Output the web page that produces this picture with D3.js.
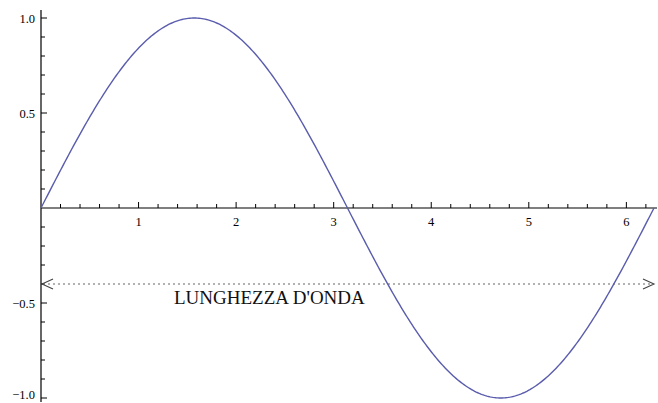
<!DOCTYPE html>
<html>
<head>
<meta charset="utf-8">
<script src="https://cdn.jsdelivr.net/npm/d3@7"></script>
<style>
  html, body { margin: 0; padding: 0; background: #fff; }
  svg { display: block; }
</style>
</head>
<body>
<svg id="chart" width="658" height="403"></svg>
<script>
// Curve: y = sin(x) over one full period
const curveSteps = d3.range(0, 401).map(i => i / 400);          // fractions of the period
const xTickValues = [1, 2, 3, 4, 5, 6];
const xTickLabels = ["1", "2", "3", "4", "5", "6"];
const yTickValues = [-1.0, -0.5, 0.5, 1.0];
const yTickLabels = ["\u22121.0", "\u22120.5", "0.5", "1.0"];
const wavelengthLevel = -0.4;
const wavelengthLabel = "LUNGHEZZA D'ONDA";

const svg = d3.select("#chart");
const x = d3.scaleLinear().domain([0, 2 * Math.PI]).range([41, 654]);
const y = d3.scaleLinear().domain([-1, 1]).range([398, 18]);

const serif = "'Liberation Serif', 'DejaVu Serif', serif";

// Axes lines
svg.append("line").attr("x1", x(0)).attr("x2", 657)
  .attr("y1", y(0)).attr("y2", y(0))
  .attr("stroke", "#000").attr("stroke-width", 1.2);
svg.append("line").attr("x1", x(0)).attr("x2", x(0))
  .attr("y1", 10).attr("y2", 402)
  .attr("stroke", "#000").attr("stroke-width", 1.2);

// x ticks (major every 1, minor every 0.2), pointing up
const xMinor = d3.range(1, 32).map(i => i * 0.2).filter(v => Math.abs(v - Math.round(v)) > 1e-6 && v <= 6.3);
svg.append("g").selectAll("line").data(xMinor).join("line")
  .attr("x1", d => x(d)).attr("x2", d => x(d))
  .attr("y1", y(0)).attr("y2", y(0) - 4)
  .attr("stroke", "#000").attr("stroke-width", 1);
svg.append("g").selectAll("line").data(xTickValues).join("line")
  .attr("x1", d => x(d)).attr("x2", d => x(d))
  .attr("y1", y(0)).attr("y2", y(0) - 6)
  .attr("stroke", "#000").attr("stroke-width", 1);
svg.append("g").selectAll("text").data(xTickValues).join("text")
  .attr("x", d => x(d)).attr("y", y(0) + 18)
  .attr("text-anchor", "middle")
  .attr("font-family", serif).attr("font-size", 12.5)
  .text((d, i) => xTickLabels[i]);

// y ticks (major every 0.5, minor every 0.1), pointing right
const yMinor = d3.range(-10, 11).map(i => i / 10).filter(v => Math.abs(v * 2 - Math.round(v * 2)) > 1e-6);
svg.append("g").selectAll("line").data(yMinor).join("line")
  .attr("x1", x(0)).attr("x2", x(0) + 4)
  .attr("y1", d => y(d)).attr("y2", d => y(d))
  .attr("stroke", "#000").attr("stroke-width", 1);
svg.append("g").selectAll("line").data(yTickValues).join("line")
  .attr("x1", x(0)).attr("x2", x(0) + 6)
  .attr("y1", d => y(d)).attr("y2", d => y(d))
  .attr("stroke", "#000").attr("stroke-width", 1);
svg.append("g").selectAll("text").data(yTickValues).join("text")
  .attr("x", x(0) - 6).attr("y", d => Math.min(y(d) + 4.5, 399))
  .attr("text-anchor", "end")
  .attr("font-family", serif).attr("font-size", 12.5)
  .text((d, i) => yTickLabels[i]);

// Wavelength marker: dotted double arrow
const yl = y(wavelengthLevel);
svg.append("line")
  .attr("x1", x(0) + 2).attr("x2", x(2 * Math.PI) - 1)
  .attr("y1", yl).attr("y2", yl)
  .attr("stroke", "#999").attr("stroke-width", 1.6)
  .attr("stroke-dasharray", "2,3");
const head = (tipX, dir) => `M${tipX + dir * 11},${yl - 5}L${tipX},${yl}L${tipX + dir * 11},${yl + 5}`;
svg.append("path").attr("d", head(x(0) + 1, 1))
  .attr("fill", "none").attr("stroke", "#444").attr("stroke-width", 1.1);
svg.append("path").attr("d", head(x(2 * Math.PI), -1))
  .attr("fill", "none").attr("stroke", "#444").attr("stroke-width", 1.1);
svg.append("text")
  .attr("x", 174).attr("y", 304)
  .attr("font-family", serif).attr("font-size", 19)
  .attr("fill", "#111")
  .text(wavelengthLabel);

// Sine curve
const line = d3.line()
  .x(t => x(t * 2 * Math.PI))
  .y(t => y(Math.sin(t * 2 * Math.PI)))
  .curve(d3.curveLinear);
svg.append("path").datum(curveSteps)
  .attr("d", line)
  .attr("fill", "none")
  .attr("stroke", "#5a5cad")
  .attr("stroke-width", 1.4);
</script>
</body>
</html>
